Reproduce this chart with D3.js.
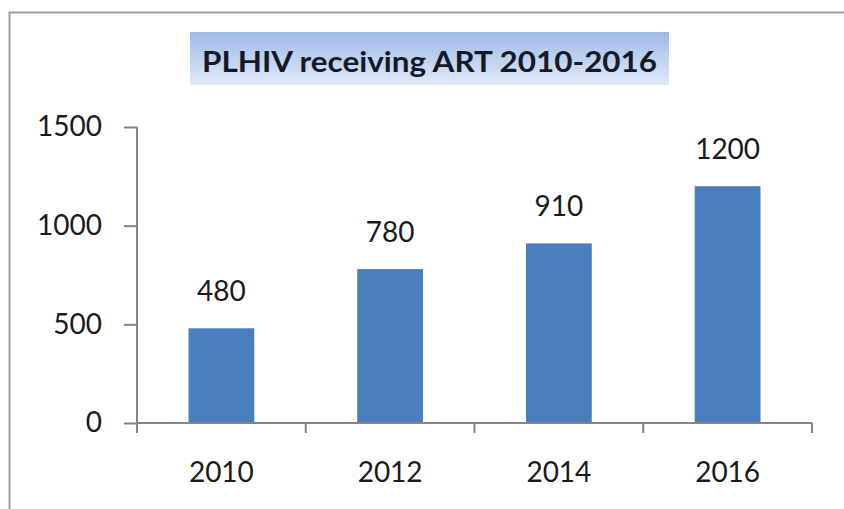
<!DOCTYPE html>
<html>
<head>
<meta charset="utf-8">
<script src="https://cdn.jsdelivr.net/npm/d3@7"></script>
<style>
  html, body { margin: 0; padding: 0; background: #fff; overflow: hidden; }
  svg { display: block; font-family: Lato, "Open Sans", sans-serif; }
</style>
</head>
<body>
<div id="chart"></div>
<script>
// Data
const years = ["2010", "2012", "2014", "2016"];
const patients = [480, 780, 910, 1200];
const yTicks = [0, 500, 1000, 1500];
const title = "PLHIV receiving ART 2010-2016";

const width = 844, height = 509;

const svg = d3.select("#chart")
    .append("svg")
    .attr("width", width)
    .attr("height", height);

// outer frame (only top and left edges visible in the crop)
svg.append("path")
    .attr("d", `M9.5,${height} V12.5 H${width}`)
    .attr("fill", "none")
    .attr("stroke", "#a0a0a0")
    .attr("stroke-width", 2);

// title box with gradient
const defs = svg.append("defs");
const grad = defs.append("linearGradient")
    .attr("id", "titleGrad")
    .attr("x1", 0).attr("y1", 0).attr("x2", 0).attr("y2", 1);
grad.append("stop").attr("offset", "0%").attr("stop-color", "#9dbae8");
grad.append("stop").attr("offset", "100%").attr("stop-color", "#e1e9f6");

svg.append("rect")
    .attr("x", 190).attr("y", 32)
    .attr("width", 479).attr("height", 53)
    .attr("fill", "url(#titleGrad)");

svg.append("text")
    .attr("x", 429.5).attr("y", 72)
    .attr("text-anchor", "middle")
    .attr("font-size", 28)
    .attr("font-weight", "bold")
    .attr("fill", "#141a28")
    .attr("textLength", 455)
    .attr("lengthAdjust", "spacingAndGlyphs")
    .text(title);

// scales
const x = d3.scaleBand()
    .domain(years)
    .range([137, 812]);

const xBar = d3.scaleBand()
    .domain(years)
    .range([137, 812])
    .paddingInner(0.61)
    .paddingOuter(0.305);

const y = d3.scaleLinear()
    .domain([0, 1500])
    .range([423, 127]);

const axisColor = "#858585";

// bars
svg.selectAll(".bar")
    .data(patients)
    .enter()
    .append("rect")
    .attr("class", "bar")
    .attr("x", (d, i) => xBar(years[i]))
    .attr("y", d => y(d))
    .attr("width", xBar.bandwidth())
    .attr("height", d => y(0) - y(d))
    .attr("fill", "#4a7ebd");

// value labels
svg.selectAll(".val")
    .data(patients)
    .enter()
    .append("text")
    .attr("class", "val")
    .attr("x", (d, i) => xBar(years[i]) + xBar.bandwidth() / 2)
    .attr("y", d => y(d) - 27)
    .attr("text-anchor", "middle")
    .attr("font-size", 28)
    .attr("fill", "#1a1a1a")
    .text(d => d);

// y axis
const yAxis = svg.append("g")
    .attr("transform", "translate(137,0)")
    .call(d3.axisLeft(y).tickValues(yTicks).tickFormat(d3.format("d"))
        .tickSize(13).tickPadding(22).tickSizeOuter(0));
yAxis.select(".domain").attr("stroke", axisColor).attr("stroke-width", 2)
    .attr("d", `M0,${y(1500)}V433`);
yAxis.selectAll(".tick line").attr("stroke", axisColor).attr("stroke-width", 2);
yAxis.selectAll(".tick text")
    .attr("font-family", "Lato, 'Open Sans', sans-serif")
    .attr("font-size", 28)
    .attr("fill", "#1a1a1a");

// x axis: ticks at band boundaries
const xAxis = svg.append("g")
    .attr("transform", `translate(0,${y(0)})`);
xAxis.append("path")
    .attr("d", `M137,0H812`)
    .attr("stroke", axisColor)
    .attr("stroke-width", 2);
const bounds = years.map(d => x(d)).concat([x.range()[1]]);
xAxis.selectAll(".xtick")
    .data(bounds)
    .enter()
    .append("line")
    .attr("class", "xtick")
    .attr("x1", d => d).attr("x2", d => d)
    .attr("y1", 0).attr("y2", 10)
    .attr("stroke", axisColor)
    .attr("stroke-width", 2);
xAxis.selectAll(".xlabel")
    .data(years)
    .enter()
    .append("text")
    .attr("class", "xlabel")
    .attr("x", d => x(d) + x.bandwidth() / 2)
    .attr("y", 59)
    .attr("text-anchor", "middle")
    .attr("font-size", 28)
    .attr("fill", "#1a1a1a")
    .text(d => d);
</script>
</body>
</html>
